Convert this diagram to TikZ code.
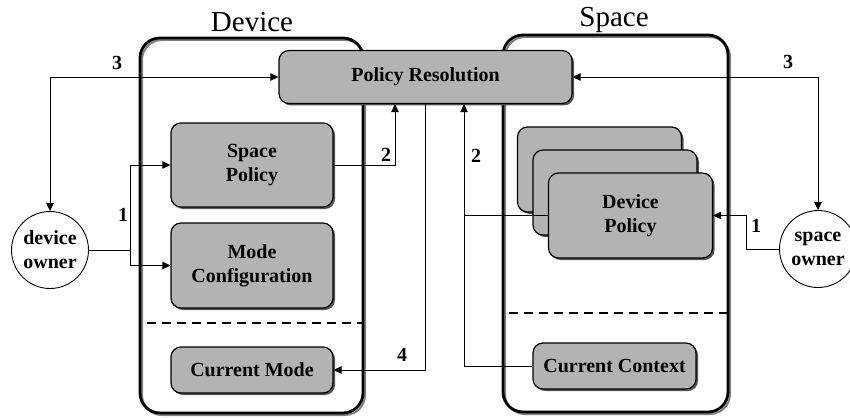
\documentclass[tikz,border=0pt]{standalone}
\usepackage{fontspec}
\setmainfont{Liberation Serif}
\usetikzlibrary{arrows.meta,shadows,positioning}
\definecolor{boxgray}{RGB}{179,179,179}
\definecolor{shadegray}{RGB}{85,85,85}

\begin{document}
\begin{tikzpicture}[x=1pt,y=-1pt,>={Triangle[length=8pt,width=7.5pt]},line width=0.9pt,
    box node/.style={draw,line width=1.2pt,rounded corners=10pt,fill=boxgray,align=center,
      inner sep=0pt,font=\fontsize{20}{24}\selectfont\bfseries,
      general shadow={shadow xshift=2pt,shadow yshift=-2pt,fill=shadegray}},
    frame node/.style={draw,line width=2.8pt,rounded corners=20pt,inner sep=0pt,
      general shadow={shadow xshift=2pt,shadow yshift=-2pt,draw=gray,line width=2pt}},
    owner node/.style={circle,draw,fill=white,minimum size=77pt,inner sep=0pt,align=center,
      font=\fontsize{20}{24}\selectfont\bfseries},
    title node/.style={font=\fontsize{29}{32}\selectfont,inner sep=0pt,anchor=base},
    num/.style={font=\fontsize{20}{22}\selectfont\bfseries,inner sep=0pt},
    sep line/.style={line width=2.8pt,dash pattern=on 9pt off 6pt}]
    \useasboundingbox (0,0) rectangle (850,417);

    % the two frames
    \node[frame node,minimum width=223pt,minimum height=375pt] (devframe) at (251.5,225.5) {};
    \node[frame node,minimum width=225pt,minimum height=377pt] (spaceframe) at (615.5,223.5) {};
    \node[title node] (devtitle) at (252,32) {Device};
    \node[title node] (spacetitle) at (614,27) {Space};
    \draw[sep line] ([xshift=8pt]devframe.west |- 0,323) -- (devframe.east |- 0,323);
    \draw[sep line] ([xshift=7pt]spaceframe.west |- 0,313) -- (spaceframe.east |- 0,313);

    % boxes
    \node[box node,minimum width=293pt,minimum height=53pt] (res) at (425.5,77) {Policy Resolution};
    \node[box node,minimum width=162pt,minimum height=84pt] (sp) at (252,165) {Space\\Policy};
    \node[box node,minimum width=162pt,minimum height=85pt] (mc) at (252,265.5) {Mode\\Configuration};
    \node[box node,minimum width=162pt,minimum height=46pt] (cm) at (252,370) {Current Mode};
    \node[box node,minimum width=164pt,minimum height=85pt] (dp1) at (599.5,169.5) {};
    \node[box node,minimum width=164pt,minimum height=85pt] (dp2) at (615,192.5) {};
    \node[box node,minimum width=164pt,minimum height=85pt] (dp3) at (630.5,215.5) {Device\\Policy};
    \node[box node,minimum width=163pt,minimum height=46pt] (cc) at (614.5,366) {Current Context};

    % owners
    \node[owner node] (downer) at (50,250) {device\\owner};
    \node[owner node] (sowner) at (818,249) {space\\owner};

    \coordinate (j1) at (130,250);
    \coordinate (j2) at (464,366);
    \coordinate (j3) at (746,249);

    % connectors
    \draw (downer) -- (j1);
    \draw[->] (j1) |- (sp);
    \draw[->] (j1) |- (mc);
    \draw[->] (sp) -| ([xshift=-30.5pt]res.south);
    \draw[->] (res.south) |- (cm);
    \draw[->] (cc) -| ([xshift=38.5pt]res.south);
    \draw (dp3) -- (dp3 -| j2);
    \draw[->] (sowner) -- (j3) |- (dp3);
    \draw[<->] (downer) |- (res);
    \draw[<->] (sowner) |- (res);

    \node[num] (n3a) at (117,63) {3};
    \node[num] (n3b) at (788,62) {3};
    \node[num] (n1a) at (123,215) {1};
    \node[num] (n1b) at (756,226) {1};
    \node[num] (n2a) at (386,155) {2};
    \node[num] (n2b) at (476,156) {2};
    \node[num] (n4) at (402,355) {4};
\end{tikzpicture}
\end{document}
